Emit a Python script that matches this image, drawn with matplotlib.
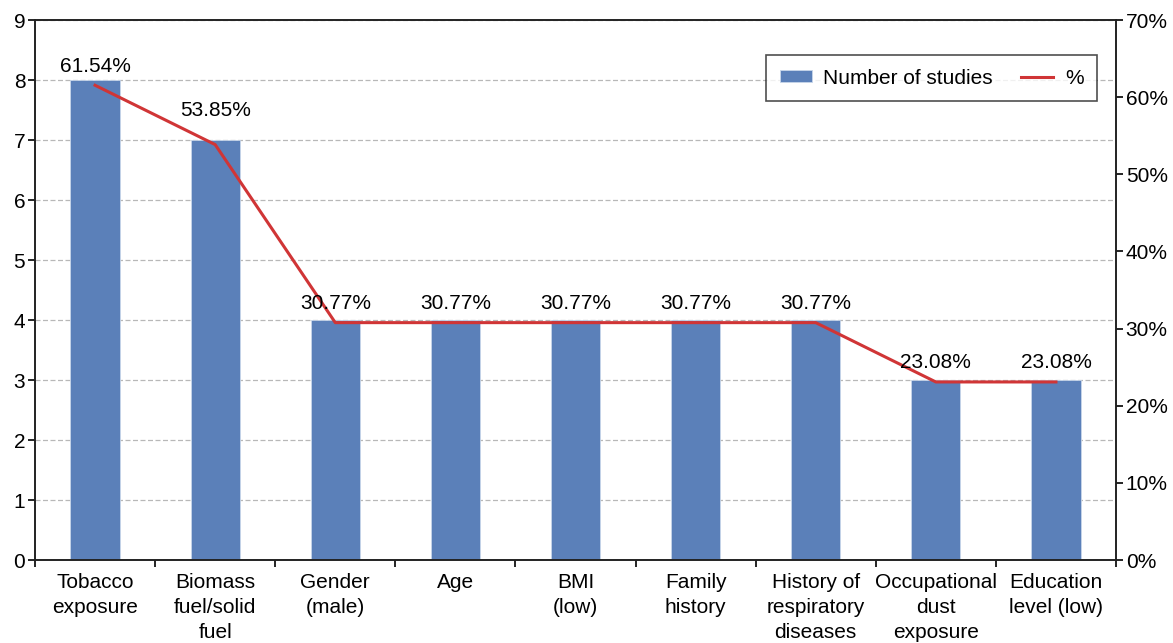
import matplotlib
matplotlib.use("Agg")
import matplotlib.pyplot as plt
import numpy as np
from matplotlib.ticker import FixedLocator, NullFormatter

plt.rcParams['font.family'] = ['Liberation Sans', 'DejaVu Sans']

categories = ["Tobacco\nexposure", "Biomass\nfuel/solid\nfuel", "Gender\n(male)", "Age",
              "BMI\n(low)", "Family\nhistory", "History of\nrespiratory\ndiseases",
              "Occupational\ndust\nexposure", "Education\nlevel (low)"]
studies = [8, 7, 4, 4, 4, 4, 4, 3, 3]
percent = [61.54, 53.85, 30.77, 30.77, 30.77, 30.77, 30.77, 23.08, 23.08]
pct_labels = ["61.54%", "53.85%", "30.77%", "30.77%", "30.77%", "30.77%", "30.77%", "23.08%", "23.08%"]
left_ticks = list(range(0, 10))
right_ticks = list(range(0, 71, 10))

bar_color = "#5b80b9"
line_color = "#d03536"
fs = 15

fig = plt.figure(figsize=(11.73, 6.43), dpi=100)
ax = fig.add_axes([35/1173, 1 - 560/643, (1116-35)/1173, (560-20)/643])
x = np.arange(len(categories))
bars = ax.bar(x, studies, width=0.41, color=bar_color, zorder=2, label="Number of studies",
              edgecolor="#c8d6ea", linewidth=0.6)
ax.set_xlim(-0.5, len(categories) - 0.5)
ax.set_ylim(0, 9)
ax.set_yticks(left_ticks)
ax.tick_params(axis='y', labelsize=fs, direction='out', length=5, width=1.2, pad=2)
ax.yaxis.grid(True, linestyle=(0, (4, 2)), color="#b8b8b8", linewidth=0.9, zorder=0)
ax.set_axisbelow(True)
ax.xaxis.set_major_locator(FixedLocator(x))
ax.set_xticklabels(categories, fontsize=fs, linespacing=1.42, va='top')
ax.tick_params(axis='x', which='major', length=0, pad=9)
ax.xaxis.set_minor_locator(FixedLocator(np.arange(-0.5, len(categories), 1.0)))
ax.xaxis.set_minor_formatter(NullFormatter())
ax.tick_params(axis='x', which='minor', length=5, width=1.2, direction='out')
for s in ax.spines.values():
    s.set_linewidth(1.2)
    s.set_color("#222222")

ax2 = ax.twinx()
ax2.set_ylim(0, 70)
ax2.set_yticks(right_ticks)
ax2.set_yticklabels([f"{t}%" for t in right_ticks])
ax2.tick_params(axis='y', labelsize=fs, direction='out', length=5, width=1.2, pad=2)
line, = ax2.plot(x, percent, color=line_color, linewidth=2.2, zorder=3, label="%")
for s in ax2.spines.values():
    s.set_linewidth(1.2)
    s.set_color("#222222")

offsets = [7, 18, 7, 7, 7, 7, 7, 7, 7]
for xi, p, lab, off in zip(x, percent, pct_labels, offsets):
    ax2.annotate(lab, (xi, p), xytext=(0, off), textcoords='offset points',
                 ha='center', va='bottom', fontsize=fs)

leg = ax2.legend([bars, line], ["Number of studies", "%"], ncol=2, fontsize=fs,
                 loc='upper right', bbox_to_anchor=(1097/1173, 1 - 55/643),
                 bbox_transform=fig.transFigure, frameon=True, fancybox=False,
                 edgecolor="#222222", handlelength=1.55, handleheight=0.5,
                 columnspacing=1.35, borderpad=0.65, borderaxespad=0, handletextpad=0.55)
leg.get_frame().set_linewidth(1.2)

fig.savefig("out.png", dpi=100)
